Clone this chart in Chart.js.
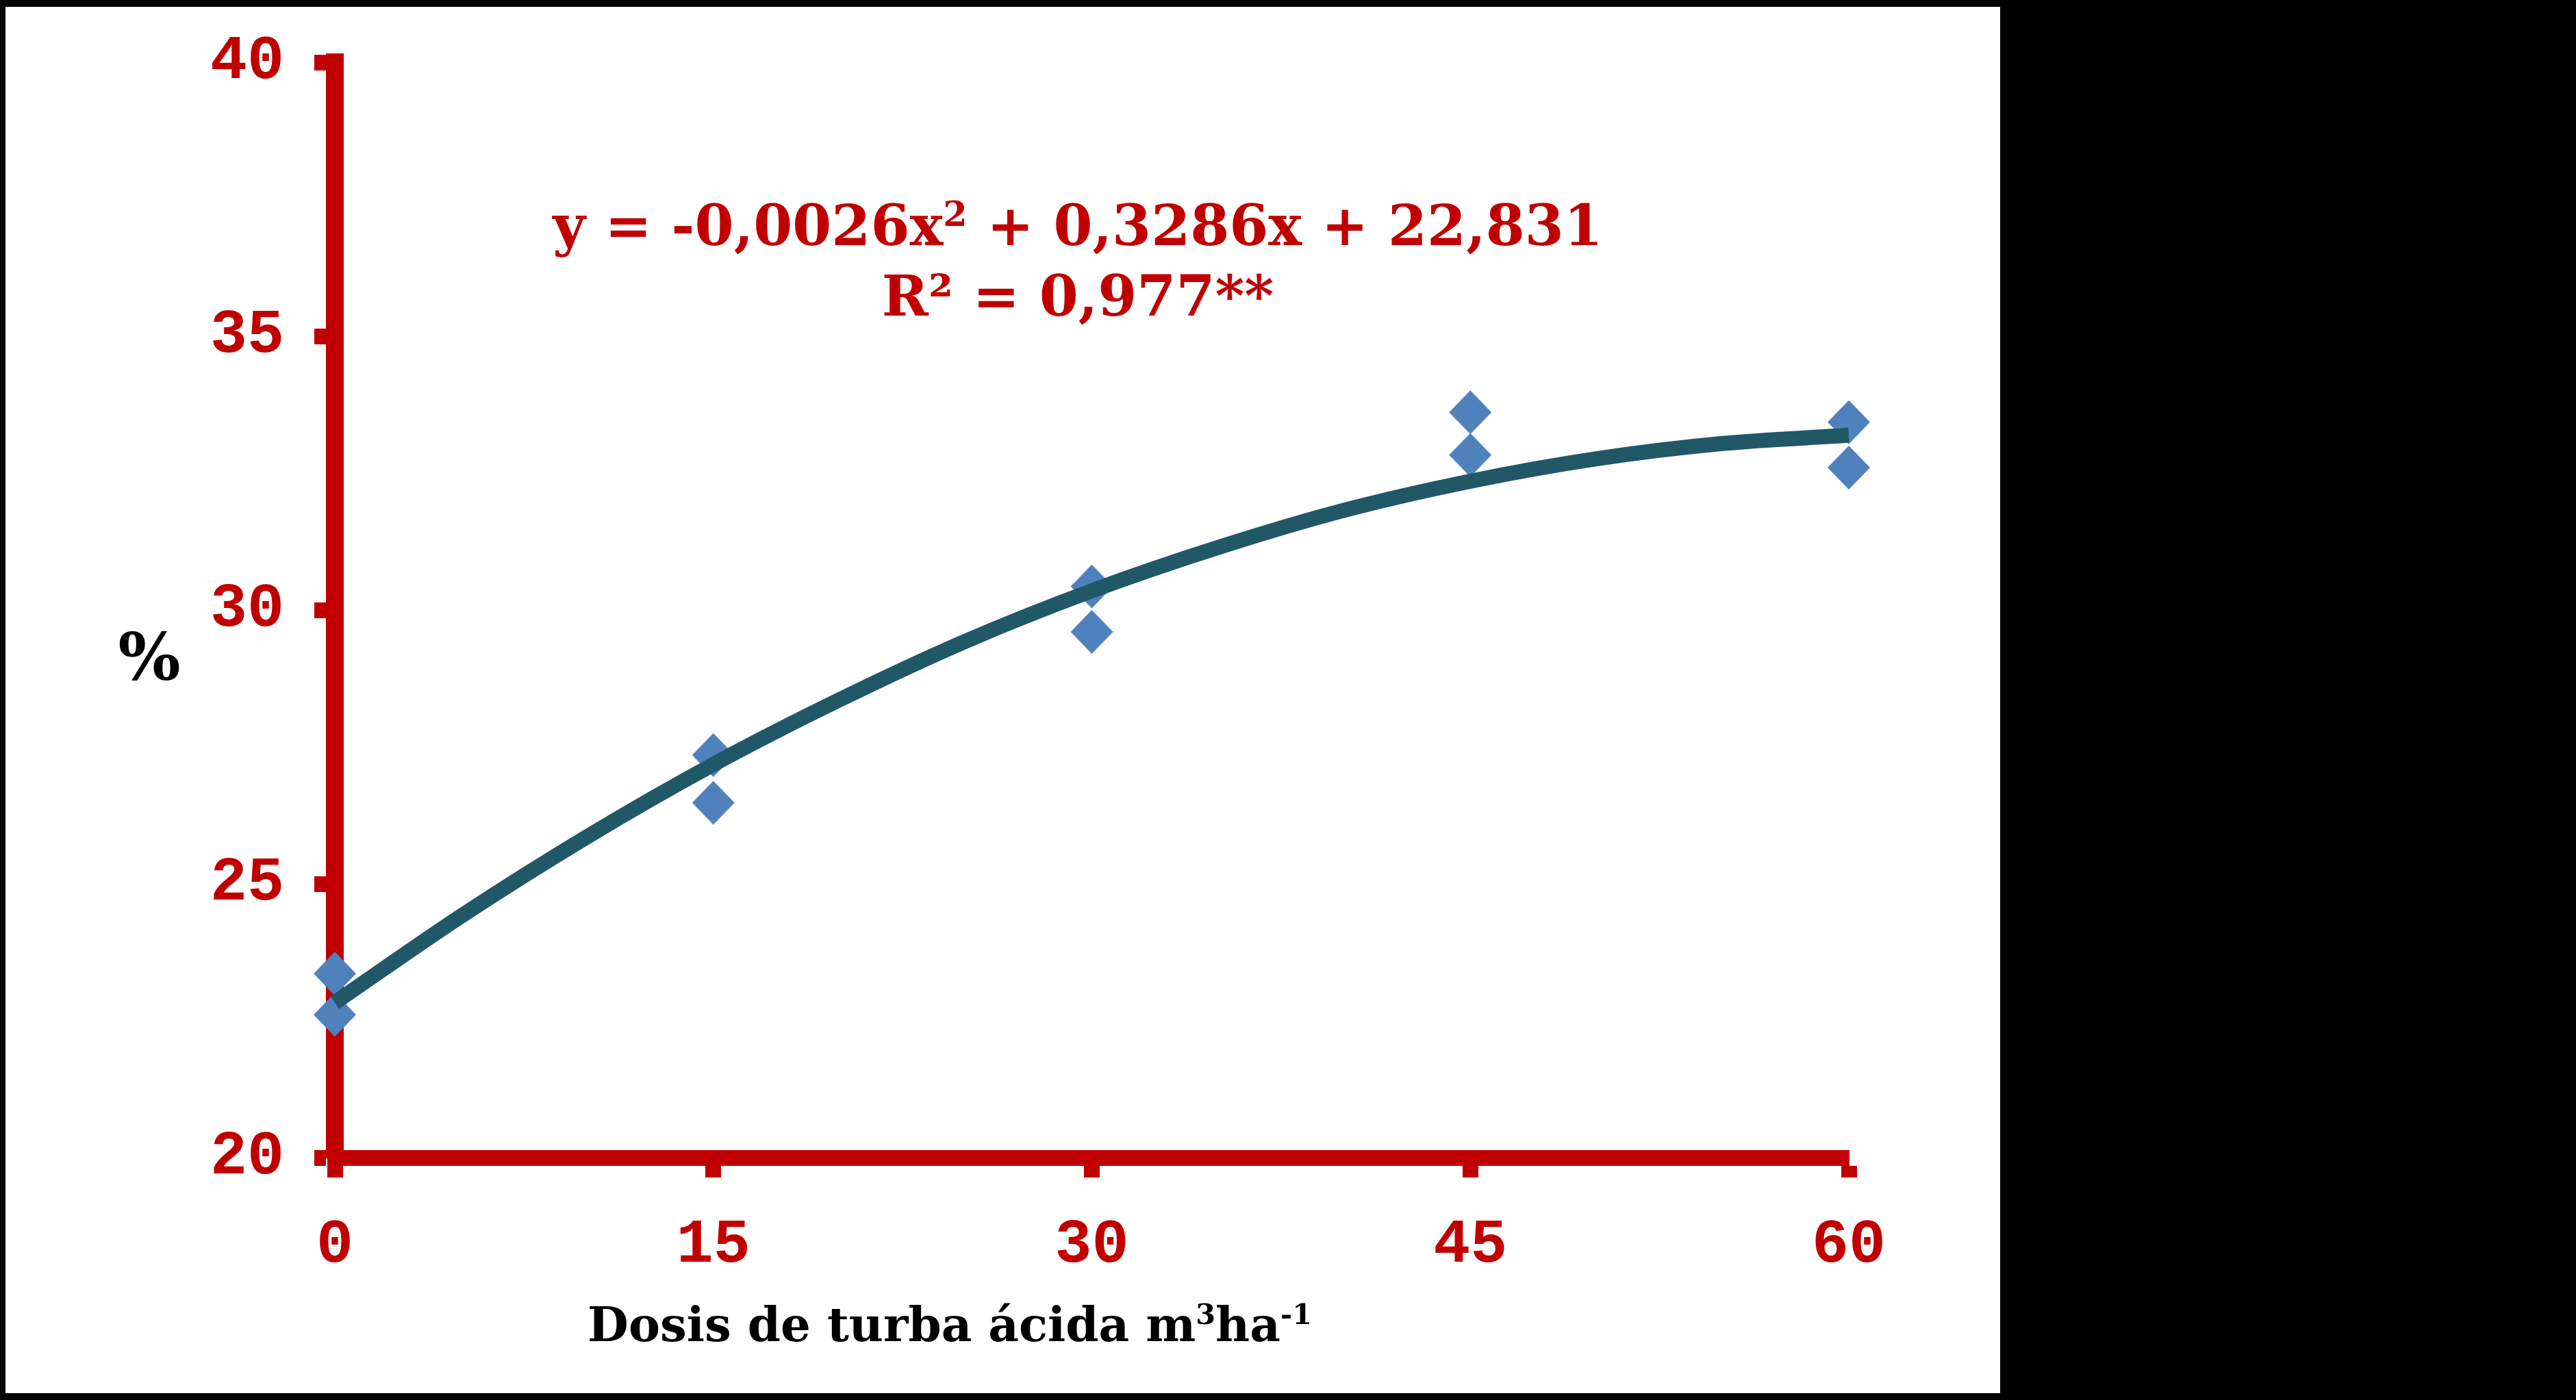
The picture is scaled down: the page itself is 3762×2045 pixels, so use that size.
<!DOCTYPE html>
<html>
<head>
<meta charset="utf-8">
<script src="https://cdn.jsdelivr.net/npm/chart.js@4"></script>
<style>
  html, body { margin: 0; padding: 0; background: #000; }
  body { width: 3762px; height: 2045px; position: relative; overflow: hidden; }
  #panel { position: absolute; left: 8px; top: 10px; width: 2913px; height: 2025px; background: #fff; }
  #chartCanvas { position: absolute; left: 0; top: 0; }
  .txt { position: absolute; transform: translate(-50%, -50%); white-space: nowrap; line-height: 1; font-weight: bold; }
  .eq { color: #c00000; font-family: "DejaVu Serif", serif; font-size: 82px; }
  .eq sup { font-size: 0.62em; vertical-align: 0.55em; line-height: 0; }
  .blk { color: #000; font-family: "DejaVu Serif", serif; }
  .blk sup { font-size: 0.6em; vertical-align: 0.6em; line-height: 0; }
</style>
</head>
<body>
<div id="panel">
  <canvas id="chartCanvas" width="2913" height="2025"></canvas>
  <div class="txt eq" style="left:1566px; top:319px;">y = -0,0026x<sup>2</sup> + 0,3286x + 22,831</div>
  <div class="txt eq" style="left:1566px; top:422px;">R² = 0,977**</div>
  <div class="txt blk" style="left:210px; top:950px; font-size:96px;">%</div>
  <div class="txt blk" style="left:1379px; top:1924px; font-size:69px;">Dosis de turba ácida m<sup>3</sup>ha<sup>-1</sup></div>
</div>

<script>
// Dosis de turba ácida (m3/ha)
const doses = [0, 0, 15, 15, 30, 30, 45, 45, 60, 60];
const measured = [23.36, 22.61, 27.35, 26.48, 30.43, 29.60, 33.61, 32.83, 33.43, 32.60];

// fitted curve as seen on the picture
const curveX = [0, 5, 10, 15, 20, 25, 30, 35, 40, 45, 50, 55, 60];
const curveY = [22.83, 24.41, 25.86, 27.18, 28.36, 29.43, 30.35, 31.14, 31.82, 32.35, 32.76, 33.04, 33.19];

const xTicks = [0, 15, 30, 45, 60];
const yTicks = [20, 25, 30, 35, 40];

const RED = '#c00000';
const tickFont = { family: '"Liberation Mono", "Courier New", monospace', size: 90, weight: 'bold' };

let charts = {};

function toPoints(xs, ys) {
    return xs.map((x, i) => ({ x: x, y: ys[i] }));
}

/**
 * Diamond marker (slightly taller than wide, like the original)
 */
function makeDiamond(w, h, color) {
    const c = document.createElement('canvas');
    c.width = w;
    c.height = h;
    const g = c.getContext('2d');
    g.fillStyle = color;
    g.beginPath();
    g.moveTo(w / 2, 0);
    g.lineTo(w, h / 2);
    g.lineTo(w / 2, h);
    g.lineTo(0, h / 2);
    g.closePath();
    g.fill();
    return c;
}

function buildChart() {
    const ctx = document.getElementById('chartCanvas');
    const diamond = makeDiamond(62, 64, '#4f81bd');

    charts.main = new Chart(ctx, {
        type: 'scatter',
        data: {
            datasets: [{
                type: 'line',
                label: 'Ajuste',
                data: toPoints(curveX, curveY),
                borderColor: '#215868',
                borderWidth: 22,
                borderCapStyle: 'butt',
                pointRadius: 0,
                pointHoverRadius: 0,
                tension: 0.4,
                cubicInterpolationMode: 'monotone',
                fill: false,
                clip: false,
                order: 0
            }, {
                label: 'Datos',
                data: toPoints(doses, measured),
                pointStyle: diamond,
                pointRadius: 31,
                pointHoverRadius: 31,
                clip: false,
                order: 1
            }]
        },
        options: {
            responsive: false,
            animation: false,
            layout: { padding: { top: 81, right: 221, left: 0, bottom: 0 } },
            plugins: {
                legend: { display: false },
                tooltip: { enabled: false }
            },
            scales: {
                x: {
                    type: 'linear',
                    min: 0,
                    max: 60,
                    afterBuildTicks: (scale) => { scale.ticks = xTicks.map(v => ({ value: v })); },
                    afterFit: (scale) => {
                        scale.height = 344;
                        scale.paddingLeft = 0;
                        scale.paddingRight = 0;
                    },
                    ticks: { color: RED, font: tickFont, padding: 46, maxRotation: 0 },
                    grid: { drawOnChartArea: false, drawTicks: true, tickLength: 29, tickWidth: 23, tickColor: RED },
                    border: { color: RED, width: 23 }
                },
                y: {
                    min: 20,
                    max: 40,
                    afterBuildTicks: (scale) => { scale.ticks = yTicks.map(v => ({ value: v })); },
                    afterFit: (scale) => {
                        scale.width = 481;
                        scale.paddingTop = 0;
                        scale.paddingBottom = 0;
                    },
                    ticks: { color: RED, font: tickFont, padding: 44 },
                    grid: { drawOnChartArea: false, drawTicks: true, tickLength: 30, tickWidth: 23, tickColor: RED },
                    border: { color: RED, width: 26 }
                }
            }
        }
    });
}

document.addEventListener('DOMContentLoaded', buildChart);
</script>
</body>
</html>
